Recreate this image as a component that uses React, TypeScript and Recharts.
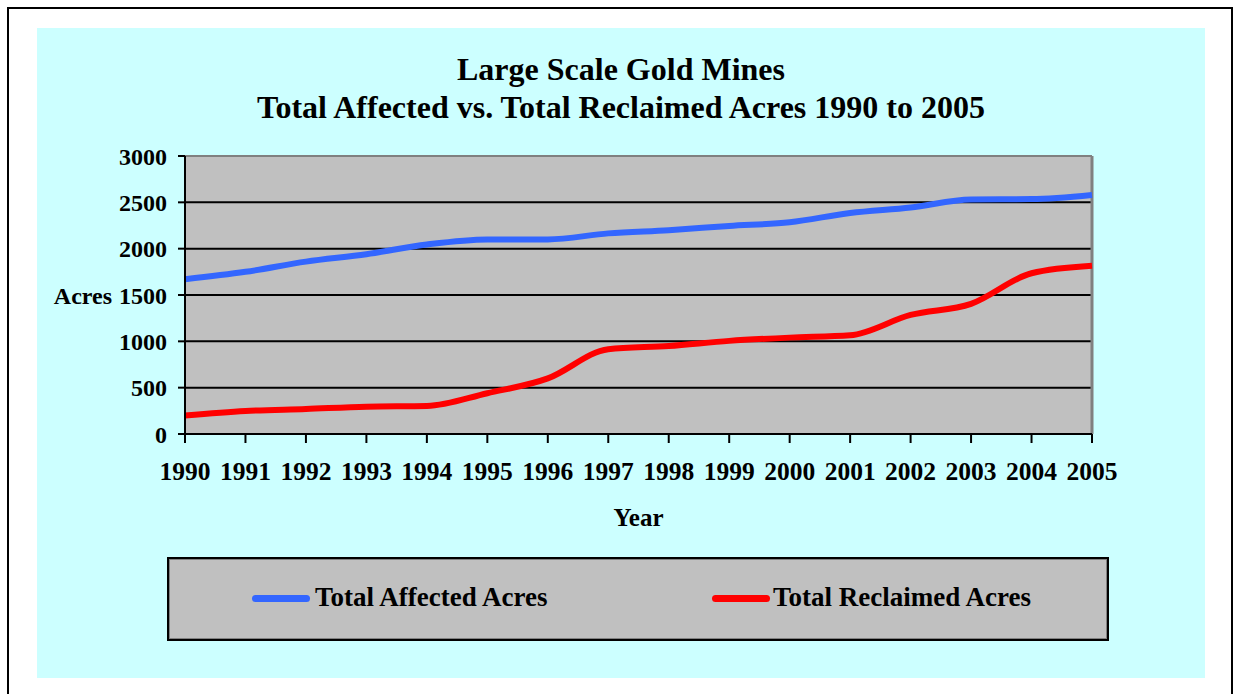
import React from 'react';
import { LineChart, Line, XAxis, YAxis, CartesianGrid, ReferenceLine, Label } from 'recharts';

const years = ['1990', '1991', '1992', '1993', '1994', '1995', '1996', '1997', '1998', '1999', '2000', '2001', '2002', '2003', '2004', '2005'];
const affectedAcres = [1670, 1750, 1860, 1940, 2045, 2100, 2100, 2165, 2200, 2245, 2285, 2385, 2445, 2530, 2535, 2580];
const reclaimedAcres = [200, 248, 270, 295, 302, 440, 600, 915, 950, 1005, 1040, 1065, 1285, 1405, 1735, 1815];
const yTicks = [0, 500, 1000, 1500, 2000, 2500, 3000];

const data = years.map((year, i) => ({
  year,
  affected: affectedAcres[i],
  reclaimed: reclaimedAcres[i],
}));

const serif = '"Liberation Serif", "Times New Roman", serif';

const seriesInfo = [
  { key: 'affected', name: 'Total Affected Acres', color: '#3366FF', lineLeft: 250, textLeft: 313 },
  { key: 'reclaimed', name: 'Total Reclaimed Acres', color: '#FF0000', lineLeft: 710, textLeft: 771 },
];

export default function App() {
  return (
    <div style={{ position: 'absolute', left: 0, top: 0, width: 1236, height: 694, background: '#fff', overflow: 'hidden', fontFamily: serif }}>
      {/* outer frame */}
      <div style={{ position: 'absolute', left: 7, top: 7, width: 1226, height: 700, border: '2px solid #000', boxSizing: 'border-box' }} />
      {/* cyan chart area */}
      <div style={{ position: 'absolute', left: 37, top: 28, width: 1168, height: 650, background: '#CCFFFF' }} />

      <div style={{ position: 'absolute', left: 37, top: 50, width: 1168, textAlign: 'center', fontWeight: 'bold', fontSize: 32, lineHeight: '38px', color: '#000' }}>
        <div>Large Scale Gold Mines</div>
        <div>Total Affected vs. Total Reclaimed Acres 1990 to 2005</div>
      </div>

      <div style={{ position: 'absolute', left: 0, top: 0 }}>
        <LineChart width={1236} height={694} data={data} margin={{ top: 156, right: 144, left: 125, bottom: 230 }}>
          <CartesianGrid horizontal={false} vertical={false} fill="#C0C0C0" />
          {yTicks.slice(1, -1).map((t) => (
            <ReferenceLine key={t} y={t} stroke="#000" strokeWidth={2} />
          ))}
          <ReferenceLine y={3000} stroke="#808080" strokeWidth={2} />
          <ReferenceLine x="2005" stroke="#808080" strokeWidth={3} />
          <XAxis
            dataKey="year"
            interval={0}
            stroke="#000"
            strokeWidth={2}
            tickSize={9}
            tickMargin={19}
            height={30}
            tick={{ fill: '#000', fontSize: 25.5, fontWeight: 'bold', fontFamily: serif }}
          >
            <Label value="Year" position="bottom" offset={44} style={{ fill: '#000', fontSize: 25, fontWeight: 'bold', fontFamily: serif }} />
          </XAxis>
          <YAxis
            domain={[0, 3000]}
            ticks={yTicks}
            interval={0}
            width={60}
            stroke="#000"
            strokeWidth={2}
            tickSize={7}
            tickMargin={11}
            tick={{ fill: '#000', fontSize: 24, fontWeight: 'bold', fontFamily: serif }}
          >
            <Label value="Acres" position="left" offset={13} style={{ fill: '#000', fontSize: 24, fontWeight: 'bold', fontFamily: serif }} />
          </YAxis>
          {seriesInfo.map((s) => (
            <Line
              key={s.key}
              type="monotone"
              dataKey={s.key}
              name={s.name}
              stroke={s.color}
              strokeWidth={6}
              dot={false}
              isAnimationActive={false}
            />
          ))}
        </LineChart>
      </div>

      {/* legend */}
      <div style={{ position: 'absolute', left: 167, top: 557, width: 942, height: 84, background: '#C0C0C0', border: '2px solid #000', boxShadow: 'inset 0 0 0 1px #808080', boxSizing: 'border-box' }}>
        {seriesInfo.map((s) => (
          <React.Fragment key={s.key}>
            <div style={{ position: 'absolute', left: s.lineLeft - 167, top: 36, width: 58, height: 7, borderRadius: 4, background: s.color }} />
            <div style={{ position: 'absolute', left: s.textLeft - 167, top: 22, fontSize: 27, fontWeight: 'bold', lineHeight: '32px', color: '#000', whiteSpace: 'nowrap' }}>
              {s.name}
            </div>
          </React.Fragment>
        ))}
      </div>
    </div>
  );
}
